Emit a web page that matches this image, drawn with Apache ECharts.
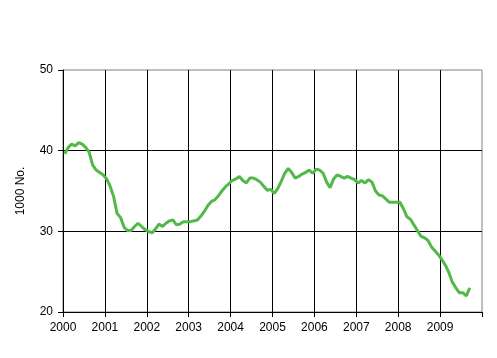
<!DOCTYPE html>
<html><head><meta charset="utf-8">
<script src="https://cdn.jsdelivr.net/npm/echarts@6/dist/echarts.min.js"></script>
<style>html,body{margin:0;padding:0;background:#fff}#c{width:497px;height:358px}</style>
</head><body><div id="c"></div>
<script>
var startYear = 2000;
var yearLabels = ['2000','2001','2002','2003','2004','2005','2006','2007','2008','2009'];
var yTicks = [20, 30, 40, 50];
// monthly values, Jan 2000 .. Sep 2009 (1000 persons)
var v2000 = [39.6,40.4,40.8,40.6,41.0,40.8,40.4,39.8,38.2,37.6,37.3,37.0];
var v2001 = [36.5,35.6,34.3,32.2,31.7,30.5,30.1,30.1,30.6,31.0,30.6,30.2];
var v2002 = [30.0,29.8,30.3,30.9,30.6,31.0,31.3,31.4,30.8,30.9,31.2,31.2];
var v2003 = [31.2,31.3,31.4,31.9,32.5,33.2,33.7,33.9,34.4,35.0,35.5,35.9];
var v2004 = [36.3,36.5,36.8,36.3,36.0,36.6,36.6,36.4,36.1,35.6,35.1,35.2];
var v2005 = [34.7,35.3,36.2,37.2,37.8,37.3,36.6,36.8,37.1,37.3,37.6,37.2];
var v2006 = [37.7,37.6,37.2,36.1,35.4,36.5,37.0,36.8,36.6,36.8,36.6,36.4];
var v2007 = [36.0,36.3,36.0,36.4,36.1,35.0,34.5,34.4,34.0,33.6,33.6,33.6];
var v2008 = [33.6,32.8,31.8,31.5,30.8,30.1,29.4,29.2,28.9,28.1,27.6,27.1];
var v2009 = [26.5,25.8,24.9,23.7,23.0,22.4,22.4,22.0,23.0];

var values = [].concat(v2000,v2001,v2002,v2003,v2004,v2005,v2006,v2007,v2008,v2009);
var data = values.map(function(v,i){ return [i + 0.5, v]; });

var chart = echarts.init(document.getElementById('c'));
var font = '"Liberation Sans", Arial, sans-serif';
chart.setOption({
  animation: false,
  backgroundColor: '#fff',
  grid: { left: 63, top: 70, width: 419, height: 242, show: true, borderColor: '#808080', borderWidth: 1, backgroundColor: 'transparent' },
  xAxis: {
    type: 'value', min: 0, max: 120, interval: 12,
    axisLine: { show: true, onZero: false, lineStyle: { color: '#000', width: 1 } },
    axisTick: { show: true, length: 5, lineStyle: { color: '#000' } },
    axisLabel: { color: '#000', fontFamily: font, fontSize: 12, margin: 10,
      formatter: function(v){ var k = Math.round(v/12); return k < yearLabels.length ? yearLabels[k] : ''; } },
    splitLine: { show: true, showMinLine: false, showMaxLine: false, lineStyle: { color: '#000', width: 1 } }
  },
  yAxis: {
    type: 'value', min: yTicks[0], max: yTicks[yTicks.length-1], interval: 10,
    name: '1000 No.', nameLocation: 'middle', nameGap: 36, nameRotate: 90,
    nameTextStyle: { color: '#000', fontFamily: font, fontSize: 12 },
    axisLine: { show: true, lineStyle: { color: '#000', width: 1 } },
    axisTick: { show: true, length: 5, lineStyle: { color: '#000' } },
    axisLabel: { color: '#000', fontFamily: font, fontSize: 12, margin: 10 },
    splitLine: { show: true, showMinLine: false, showMaxLine: false, lineStyle: { color: '#000', width: 1 } }
  },
  series: [{
    type: 'line', data: data, showSymbol: false, smooth: false,
    lineStyle: { color: '#52b948', width: 3 }, z: 5
  }]
});
</script></body></html>
